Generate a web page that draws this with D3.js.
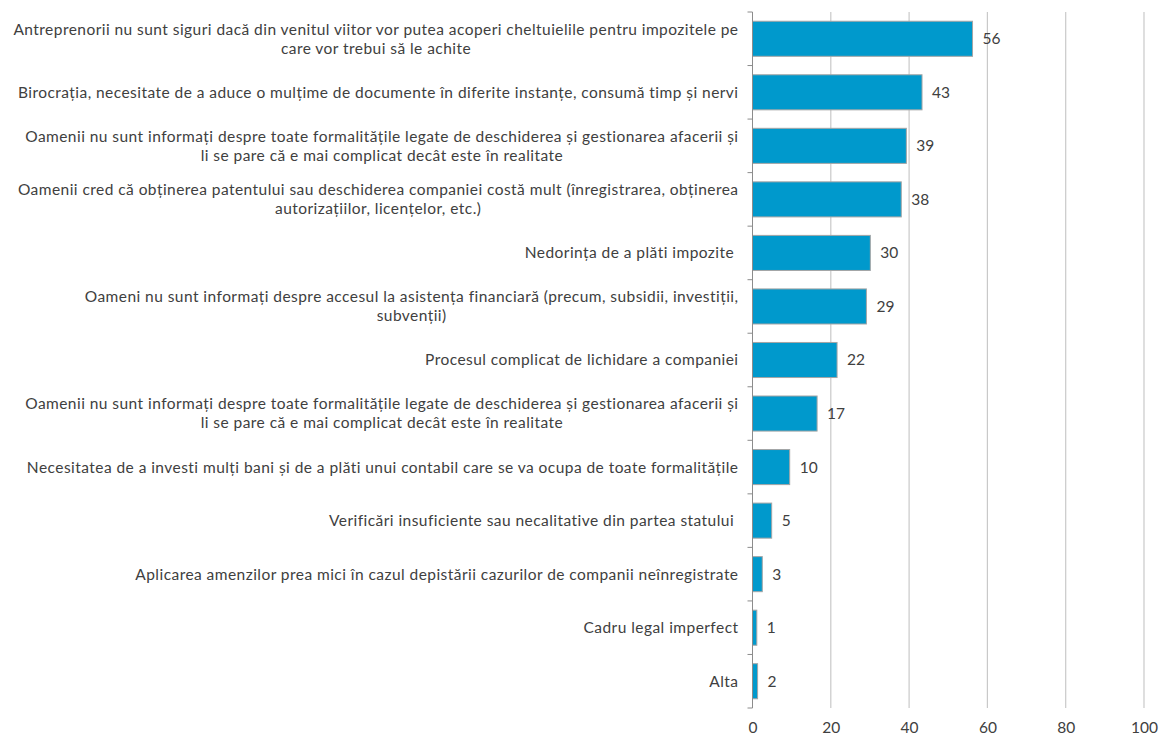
<!DOCTYPE html>
<html>
<head>
<meta charset="utf-8">
<script src="https://cdn.jsdelivr.net/npm/d3@7"></script>
<style>
  body { margin: 0; background: #fff; }
  text { font-family: Lato, "Open Sans", sans-serif; fill: #404040; }
</style>
</head>
<body>
<script>
// categories (line breaks as in the picture)
const categories = [
  'Antreprenorii nu sunt siguri dacă din venitul viitor vor putea acoperi cheltuielile pentru impozitele pe\ncare vor trebui să le achite',
  'Birocrația, necesitate de a aduce o mulțime de documente în diferite instanțe, consumă timp și nervi',
  'Oamenii nu sunt informați despre toate formalitățile legate de deschiderea și gestionarea afacerii și\nli se pare că e mai complicat decât este în realitate',
  'Oamenii cred că obținerea patentului sau deschiderea companiei costă mult (înregistrarea, obținerea\nautorizațiilor, licențelor, etc.)',
  'Nedorința de a plăti impozite ',
  'Oameni nu sunt informați despre accesul la asistența financiară (precum, subsidii, investiții,\nsubvenții)',
  'Procesul complicat de lichidare a companiei',
  'Oamenii nu sunt informați despre toate formalitățile legate de deschiderea și gestionarea afacerii și\nli se pare că e mai complicat decât este în realitate',
  'Necesitatea de a investi mulți bani și de a plăti unui contabil care se va ocupa de toate formalitățile',
  'Verificări insuficiente sau necalitative din partea statului ',
  'Aplicarea amenzilor prea mici în cazul depistării cazurilor de companii neînregistrate',
  'Cadru legal imperfect',
  'Alta'
]
// bar lengths as measured, and the printed data labels
const values = [56.2, 43.3, 39.3, 38.0, 30.1, 29.1, 21.6, 16.5, 9.5, 4.9, 2.5, 1.1, 1.3]
const valueLabels = ['56', '43', '39', '38', '30', '29', '22', '17', '10', '5', '3', '1', '2']
const xTicks = [0, 20, 40, 60, 80, 100]

const w = 1163, h = 737
const m = { top: 12, right: 19, bottom: 29, left: 752.5 }

const svg = d3.select('body').append('svg')
  .attr('width', w)
  .attr('height', h)

const x = d3.scaleLinear().domain([0, 100]).range([m.left, w - m.right])
const y = d3.scaleBand().domain(d3.range(categories.length))
  .range([m.top, h - m.bottom]).paddingInner(0.345).paddingOuter(0.1725)

// gridlines
svg.append('g').selectAll('line')
  .data(xTicks.filter(d => d > 0))
  .enter().append('line')
  .attr('x1', d => x(d)).attr('x2', d => x(d))
  .attr('y1', m.top).attr('y2', h - m.bottom)
  .attr('stroke', '#c9c9c9').attr('stroke-width', 1.2)

// x tick labels
const xAxis = svg.append('g')
  .attr('transform', `translate(0,${h - m.bottom})`)
  .call(d3.axisBottom(x).tickValues(xTicks).tickSize(0).tickPadding(14))
xAxis.select('.domain').remove()
xAxis.selectAll('text')
  .style('font-family', 'Lato, sans-serif').style('font-size', '15.5px').attr('fill', '#404040')

// bars
svg.append('g').selectAll('rect')
  .data(values)
  .enter().append('rect')
  .attr('x', x(0))
  .attr('y', (d, i) => y(i))
  .attr('width', d => x(d) - x(0))
  .attr('height', y.bandwidth())
  .attr('fill', '#0099cc')
  .attr('stroke', '#a5a5a5')
  .attr('stroke-width', 1)

// value labels
svg.append('g').selectAll('text')
  .data(values)
  .enter().append('text')
  .attr('x', d => x(d) + 10)
  .attr('y', (d, i) => y(i) + y.bandwidth() / 2)
  .attr('dy', '0.35em')
  .style('font-size', '15.5px')
  .text((d, i) => valueLabels[i])

// y axis line + ticks at band edges
const yTicks = d3.range(categories.length + 1).map(i => m.top + i * y.step())
const yAxis = svg.append('g').attr('stroke', '#8c8c8c').attr('stroke-width', 1)
yAxis.append('line')
  .attr('x1', x(0)).attr('x2', x(0))
  .attr('y1', m.top).attr('y2', h - m.bottom)
yAxis.selectAll('.tick')
  .data(yTicks)
  .enter().append('line')
  .attr('x1', x(0) - 5).attr('x2', x(0))
  .attr('y1', d => d).attr('y2', d => d)

// category labels: block right aligned, lines centred inside it
const labelRight = x(0) - 14
const lineH = 19
const cat = svg.append('g')
categories.forEach((c, i) => {
  const lines = c.split('\n')
  const g = cat.append('g')
  const cy = y(i) + y.bandwidth() / 2
  const texts = lines.map((l, j) => g.append('text')
    .attr('y', cy + (j - (lines.length - 1) / 2) * lineH)
    .attr('dy', '0.35em')
    .style('font-size', '15.5px')
    .style('letter-spacing', '0.45px')
    .style('white-space', 'pre')
    .text(l))
  const widths = texts.map(t => t.node().getComputedTextLength())
  const maxW = d3.max(widths)
  if (lines.length > 1) {
    texts.forEach(t => t.attr('x', labelRight - maxW / 2).attr('text-anchor', 'middle'))
  } else {
    texts.forEach(t => t.attr('x', labelRight).attr('text-anchor', 'end'))
  }
})
</script>
</body>
</html>
